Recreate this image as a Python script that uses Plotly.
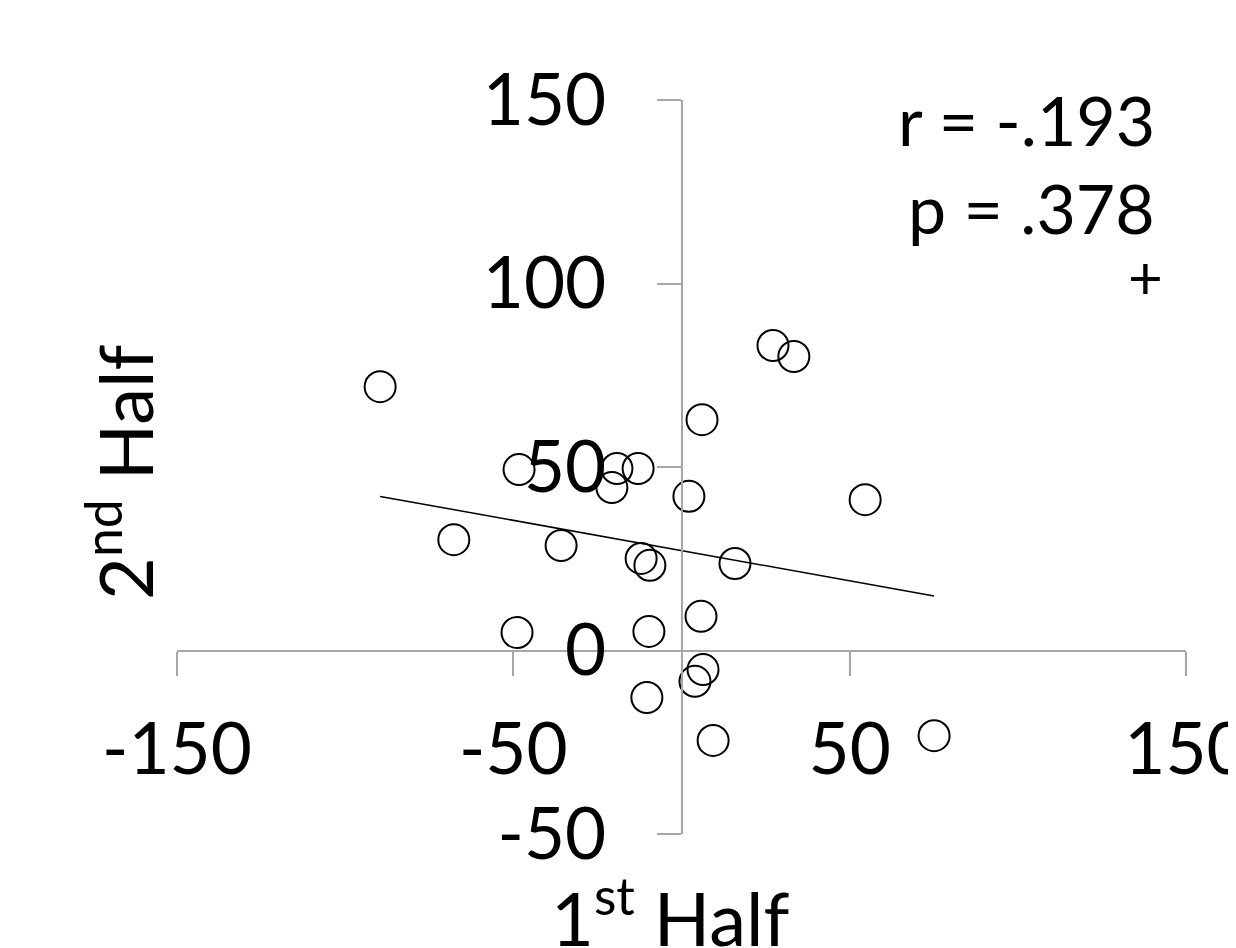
import numpy as np
import plotly.graph_objects as go

# Data
first_half = [-89.6, 27.2, 33.4, 6.1, -48.3, -19.2, -12.9, -20.7, 2.2, 54.6, -67.7, -35.8,
              -12.0, -9.4, 15.9, 5.8, -48.9, -9.7, 6.4, 4.0, -10.3, 9.4, 75.1]
second_half = [71.9, 83.1, 80.1, 62.9, 49.3, 49.6, 49.6, 44.4, 42.0, 41.1, 30.2, 28.6,
               25.1, 23.2, 23.7, 9.3, 4.9, 5.2, -5.2, -8.4, -12.8, -24.5, -23.2]
x_ticks = [-150, -50, 50, 150]
y_ticks = [-50, 0, 50, 100, 150]
stats_text = ["r = -.193", "p = .378"]

# page has an 8px body margin; figure is sized to fit the 1236x948 window
OFF = 8
W, H = 1236 - OFF, 948 - OFF
L, R, T, B = 177 - OFF, 50, 100 - OFF, 114
pw, ph = W - L - R, H - T - B

def px(xpage):
    return (xpage - OFF - L) / pw

def py(ypage):
    return (H - B - (ypage - OFF)) / ph

FONT = "Lato"
AX = "#A6A6A6"

xs = np.array(first_half)
ys = np.array(second_half)
slope, intercept = np.polyfit(xs, ys, 1)
line_x = np.array([xs.min(), xs.max()])
line_y = slope * line_x + intercept

fig = go.Figure()
fig.add_trace(go.Scatter(x=line_x, y=line_y, mode="lines",
                         line=dict(color="black", width=1.5), hoverinfo="skip"))
fig.add_trace(go.Scatter(x=first_half, y=second_half, mode="markers",
                         marker=dict(symbol="circle-open", size=31, color="black",
                                     line=dict(width=2, color="black"))))

fig.update_layout(
    width=W, height=H,
    margin=dict(l=L, r=R, t=T, b=B, autoexpand=False),
    paper_bgcolor="white", plot_bgcolor="white",
    showlegend=False,
    font=dict(family=FONT, color="black", size=72),
    xaxis=dict(range=[-150, 150], tickvals=x_ticks, ticktext=[str(v) for v in x_ticks],
               showgrid=False, zeroline=False, showline=True, linecolor=AX, linewidth=2,
               ticks="outside", ticklen=24, tickwidth=2, tickcolor=AX,
               anchor="free", position=0.25, ticklabelstandoff=13,
               ticklabeloverflow="allow", automargin=False,
               tickfont=dict(family=FONT, size=71, color="black")),
    yaxis=dict(range=[-50, 150], tickvals=y_ticks, ticktext=[str(v) for v in y_ticks],
               showgrid=False, zeroline=False, showline=True, linecolor=AX, linewidth=2,
               ticks="outside", ticklen=24, tickwidth=2, tickcolor=AX,
               anchor="free", position=0.5, ticklabelstandoff=36,
               ticklabeloverflow="allow", automargin=False,
               tickfont=dict(family=FONT, size=71, color="black")),
)

ann = [
    dict(text=stats_text[0], x=px(1157), y=py(119), xanchor="right", yanchor="middle",
         font=dict(size=68)),
    dict(text=stats_text[1], x=px(1157), y=py(207), xanchor="right", yanchor="middle",
         font=dict(size=68)),
    dict(text="+", x=px(1145), y=py(276), xanchor="center", yanchor="middle",
         font=dict(size=60)),
    dict(text="2<sup>nd</sup> Half", x=px(120), y=py(473), textangle=-90,
         xanchor="center", yanchor="middle", font=dict(size=74)),
    dict(text="1<sup>st</sup> Half", x=px(670), y=py(913), xanchor="center",
         yanchor="middle", font=dict(size=74)),
]
for a in ann:
    a.update(xref="paper", yref="paper", showarrow=False)
    a["font"] = dict(family=FONT, color="black", **a["font"])
    fig.add_annotation(**a)

fig.write_html("out.html")
